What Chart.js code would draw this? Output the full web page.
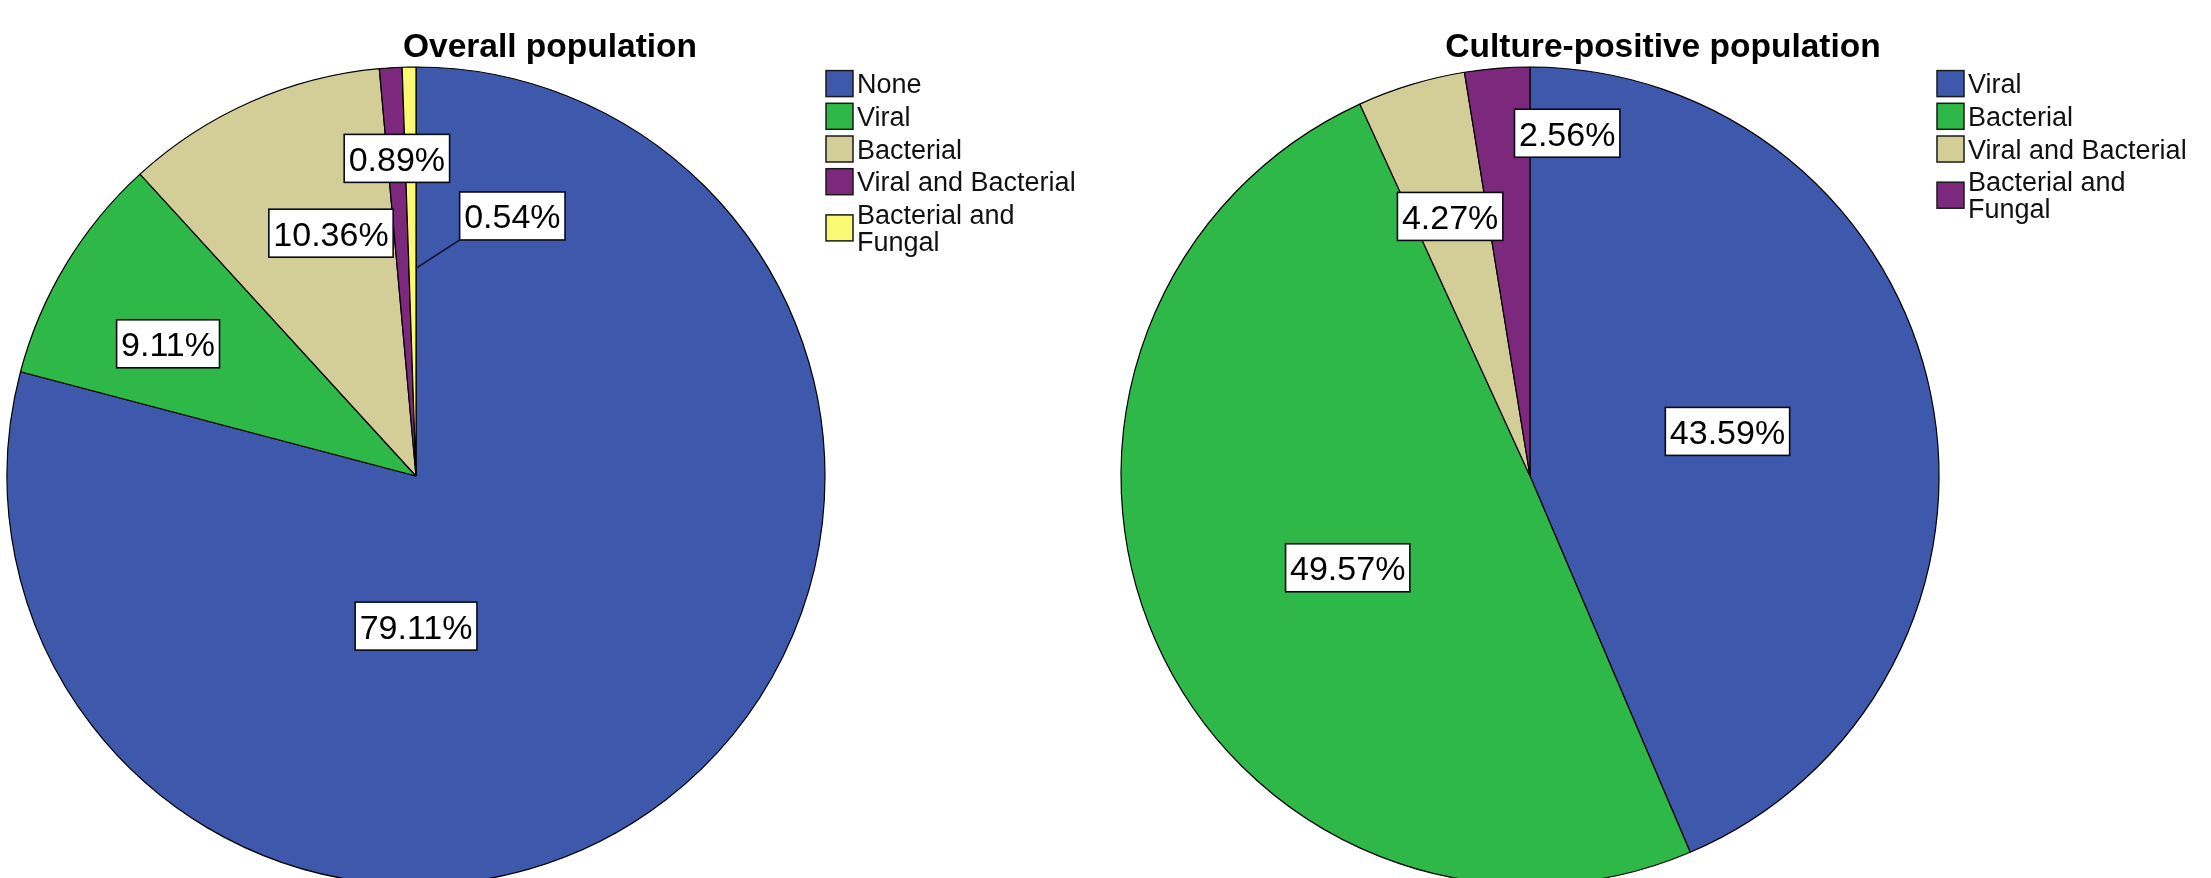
<!DOCTYPE html>
<html>
<head>
<meta charset="utf-8">
<script src="https://cdn.jsdelivr.net/npm/chart.js@4.4.1/dist/chart.umd.min.js"></script>
<style>
  html, body { margin: 0; padding: 0; background: #ffffff; width: 2211px; height: 878px; overflow: hidden; }
  canvas { position: absolute; top: 0; }
  #overall { left: 0; }
  #culture { left: 1105px; }
</style>
</head>
<body>
<canvas id="overall" width="1105" height="900"></canvas>
<canvas id="culture" width="1106" height="900"></canvas>
<script>
// ---- data ----
const overallTitle = 'Overall population';
const overallCategories = ['None', 'Viral', 'Bacterial', 'Viral and Bacterial', 'Bacterial and Fungal'];
const overallPercent = [79.11, 9.11, 10.36, 0.89, 0.54];

const culturePositiveTitle = 'Culture-positive population';
const culturePositiveCategories = ['Viral', 'Bacterial', 'Viral and Bacterial', 'Bacterial and Fungal'];
const culturePositivePercent = [43.59, 49.57, 4.27, 2.56];

// ---- styling ----
const BLUE = '#3E58AC', GREEN = '#2EB848', TAN = '#D3CE97', PURPLE = '#7C287D', YELLOW = '#FBF873';
const overallColors = [BLUE, GREEN, TAN, PURPLE, YELLOW];
const culturePositiveColors = [BLUE, GREEN, TAN, PURPLE];

const FONT = '"Liberation Sans", Arial, Helvetica, sans-serif';
const PIE_RADIUS = 409;

// label placement per slice: [angle shift from slice middle (deg), distance as fraction of radius]
const overallLabelPlacement = [[37.6, 0.367], [-3.1, 0.687], [4.5, 0.629], [0.1, 0.778], [21.3, 0.678]];
const culturePositiveLabelPlacement = [[-1.2, 0.495], [-2.9, 0.499], [-0.2, 0.664], [10.8, 0.843]];
// leader lines: slice index -> distance (fraction of radius) of the anchor on the slice's end edge
const overallLeaders = { 4: 0.508 };
const culturePositiveLeaders = { 3: 0.675 };

function wrapWords(ctx, text, maxWidth) {
  const words = text.split(' ');
  const lines = [];
  let cur = '';
  words.forEach(w => {
    const test = cur ? cur + ' ' + w : w;
    if (cur && ctx.measureText(test).width > maxWidth) { lines.push(cur); cur = w; }
    else cur = test;
  });
  if (cur) lines.push(cur);
  return lines;
}

// draws the value boxes, leader lines, title and legend of a pie
const pieDecor = {
  id: 'pieDecor',
  afterDatasetsDraw(chart, args, opts) {
    const ctx = chart.ctx;
    const meta = chart.getDatasetMeta(0);
    const values = chart.data.datasets[0].data;
    ctx.save();
    ctx.font = '34px ' + FONT;
    meta.data.forEach((arc, i) => {
      const p = arc.getProps(['x', 'y', 'startAngle', 'endAngle', 'outerRadius'], true);
      const [shift, frac] = opts.placement[i];
      const mid = (p.startAngle + p.endAngle) / 2 + shift * Math.PI / 180;
      const cx = p.x + Math.cos(mid) * frac * p.outerRadius;
      const cy = p.y + Math.sin(mid) * frac * p.outerRadius;
      const text = values[i].toFixed(2) + '%';
      const w = ctx.measureText(text).width + 9;
      const h = 48;
      const left = cx - w / 2, top = cy - h / 2;
      if (opts.leaders && opts.leaders[i] !== undefined) {
        const d = opts.leaders[i] * p.outerRadius;
        const tx = p.x + Math.cos(p.endAngle) * d;
        const ty = p.y + Math.sin(p.endAngle) * d;
        const sx = Math.min(Math.max(tx, left), left + w);
        const sy = Math.min(Math.max(ty, top), top + h);
        ctx.beginPath();
        ctx.moveTo(sx, sy);
        ctx.lineTo(tx, ty);
        ctx.strokeStyle = '#14183a';
        ctx.lineWidth = 1.6;
        ctx.stroke();
      }
      ctx.fillStyle = '#ffffff';
      ctx.fillRect(left, top, w, h);
      ctx.strokeStyle = '#0a0a14';
      ctx.lineWidth = 1.6;
      ctx.strokeRect(left, top, w, h);
      ctx.fillStyle = '#000000';
      ctx.textAlign = 'center';
      ctx.textBaseline = 'alphabetic';
      ctx.fillText(text, cx, cy + 12.5);
    });
    ctx.restore();
  },
  afterDraw(chart, args, opts) {
    const ctx = chart.ctx;
    const colors = chart.data.datasets[0].backgroundColor;
    ctx.save();
    // title
    ctx.font = 'bold 33.5px ' + FONT;
    ctx.fillStyle = '#000000';
    ctx.textAlign = 'center';
    ctx.textBaseline = 'alphabetic';
    ctx.fillText(opts.title, opts.titleX, 57);
    // legend
    ctx.font = '27px ' + FONT;
    ctx.textAlign = 'left';
    let y = opts.legendY;
    chart.data.labels.forEach((label, i) => {
      const lines = wrapWords(ctx, label, 236);
      const firstBase = y + 23.3;
      ctx.fillStyle = '#111111';
      lines.forEach((ln, k) => ctx.fillText(ln, opts.legendX + 31, firstBase + k * 27));
      const boxMid = firstBase - 9.7 + (lines.length - 1) * 27 / 2;
      ctx.fillStyle = colors[i];
      ctx.fillRect(opts.legendX, boxMid - 13, 27, 26);
      ctx.strokeStyle = '#1a1a1a';
      ctx.lineWidth = 1.5;
      ctx.strokeRect(opts.legendX, boxMid - 13, 27, 26);
      y += 32.7 + (lines.length - 1) * 27;
    });
    ctx.restore();
  }
};

function makePie(canvasId, labels, values, colors, centerX, centerY, decor) {
  const canvas = document.getElementById(canvasId);
  const W = canvas.width, H = canvas.height;
  return new Chart(canvas, {
    type: 'pie',
    data: {
      labels: labels,
      datasets: [{
        data: values,
        backgroundColor: colors,
        borderColor: '#000000',
        borderWidth: 1.2
      }]
    },
    options: {
      responsive: false,
      animation: false,
      radius: PIE_RADIUS,
      layout: {
        padding: {
          left: centerX - PIE_RADIUS,
          right: W - centerX - PIE_RADIUS,
          top: centerY - PIE_RADIUS,
          bottom: H - centerY - PIE_RADIUS
        }
      },
      plugins: {
        legend: { display: false },
        title: { display: false },
        tooltip: { enabled: false },
        pieDecor: decor
      }
    },
    plugins: [pieDecor]
  });
}

makePie('overall', overallCategories, overallPercent, overallColors, 416, 476, {
  title: overallTitle, titleX: 550, legendX: 826, legendY: 70,
  placement: overallLabelPlacement, leaders: overallLeaders
});

makePie('culture', culturePositiveCategories, culturePositivePercent, culturePositiveColors, 425, 476, {
  title: culturePositiveTitle, titleX: 558, legendX: 832, legendY: 70,
  placement: culturePositiveLabelPlacement, leaders: culturePositiveLeaders
});
</script>
</body>
</html>
